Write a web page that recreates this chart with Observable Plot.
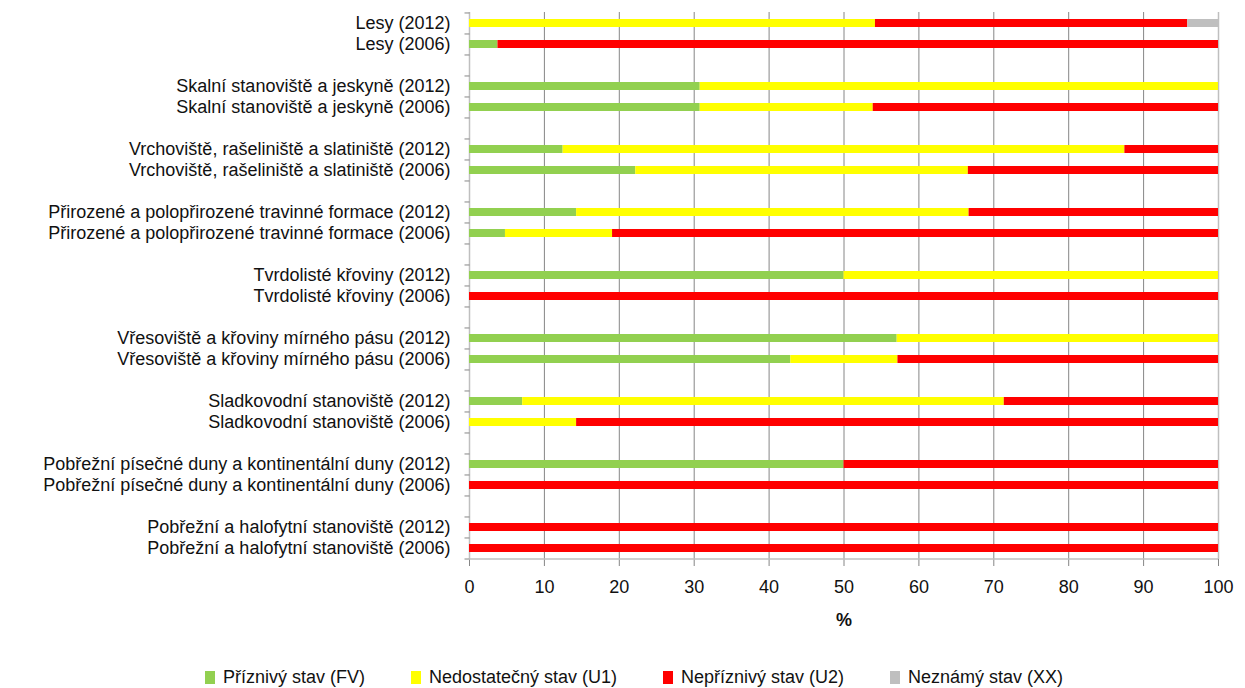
<!DOCTYPE html>
<html>
<head>
<meta charset="utf-8">
<script src="https://cdn.jsdelivr.net/npm/d3@7"></script>
<script src="https://cdn.jsdelivr.net/npm/@observablehq/plot@0.6"></script>
<style>
  body { margin: 0; background: #fff; font-family: "Liberation Sans", Arial, sans-serif; }
  #chart { width: 1245px; }
  #legend { display: flex; justify-content: center; margin-top: 27px; padding-left: 23px; font-size: 18px; color: #111; }
  #legend .item { display: flex; align-items: center; margin: 0 23px; }
  #legend .sw { width: 10px; height: 13px; margin-right: 8px; display: inline-block; }
</style>
</head>
<body>
<div id="chart"></div>
<script>
// ---- data (top to bottom) ----
const habitats = [
  "Lesy", "Lesy",
  "Skalní stanoviště a jeskyně", "Skalní stanoviště a jeskyně",
  "Vrchoviště, rašeliniště a slatiniště", "Vrchoviště, rašeliniště a slatiniště",
  "Přirozené a polopřirozené travinné formace", "Přirozené a polopřirozené travinné formace",
  "Tvrdolisté křoviny", "Tvrdolisté křoviny",
  "Vřesoviště a křoviny mírného pásu", "Vřesoviště a křoviny mírného pásu",
  "Sladkovodní stanoviště", "Sladkovodní stanoviště",
  "Pobřežní písečné duny a kontinentální duny", "Pobřežní písečné duny a kontinentální duny",
  "Pobřežní a halofytní stanoviště", "Pobřežní a halofytní stanoviště"
];
const years = [2012, 2006, 2012, 2006, 2012, 2006, 2012, 2006, 2012, 2006, 2012, 2006, 2012, 2006, 2012, 2006, 2012, 2006];
const fv = [0, 3.8, 30.8, 30.8, 12.5, 22.2, 14.3, 4.8, 50, 0, 57.1, 42.9, 7.1, 0, 50, 0, 0, 0];
const u1 = [54.2, 0, 69.2, 23.1, 75, 44.4, 52.4, 14.3, 50, 0, 42.9, 14.3, 64.3, 14.3, 0, 0, 0, 0];
const u2 = [41.7, 96.2, 0, 46.1, 12.5, 33.4, 33.3, 80.9, 0, 100, 0, 42.8, 28.6, 85.7, 50, 100, 100, 100];
const xx = [4.1, 0, 0, 0, 0, 0, 0, 0, 0, 0, 0, 0, 0, 0, 0, 0, 0, 0];
const statuses = ["Příznivý stav (FV)", "Nedostatečný stav (U1)", "Nepříznivý stav (U2)", "Neznámý stav (XX)"];
const colors = ["#92D050", "#FFFF00", "#FF0000", "#BFBFBF"];
const xTicks = [0, 10, 20, 30, 40, 50, 60, 70, 80, 90, 100];

// ---- build table ----
const labels = habitats.map((h, i) => `${h} (${years[i]})`);
const series = [fv, u1, u2, xx];
const table = [];
labels.forEach((lab, i) => {
  series.forEach((s, k) => { if (s[i] > 0) table.push({label: lab, status: statuses[k], value: s[i]}); });
});
// y domain with blank spacer categories between groups
const domain = [];
labels.forEach((lab, i) => {
  domain.push(lab);
  if (i % 2 === 1 && i < labels.length - 1) domain.push("__gap" + i);
});

const W = 1245, H = 640, mt = 12, mb = 81, ml = 469, mr = 27;
const step = (H - mt - mb) / domain.length;
const tickSym = {draw(ctx) { ctx.moveTo(-5, 0); ctx.lineTo(0, 0); }};

const chart = Plot.plot({
  width: W, height: H,
  marginTop: mt, marginBottom: mb, marginLeft: ml, marginRight: mr,
  style: {fontFamily: "'Liberation Sans', Arial, sans-serif", fontSize: "16px", color: "#111", background: "#fff"},
  x: {domain: [0, 100]},
  y: {domain, paddingInner: 0.62, paddingOuter: 0.31, align: 0.5},
  color: {domain: statuses, range: colors},
  marks: [
    Plot.ruleX(xTicks.filter(t => t > 0 && t < 100), {stroke: "#868686", strokeWidth: 1}),
    Plot.ruleX([0, 100], {stroke: "#BFBFBF", strokeWidth: 1.5}),
    Plot.barX(table, Plot.stackX({x: "value", y: "label", fill: "status", order: statuses})),
    Plot.dot(domain, {x: 0, y: d => d, dy: -step / 2, symbol: tickSym, stroke: "#868686", strokeWidth: 1}),
    Plot.dot([domain[domain.length - 1]], {x: 0, y: d => d, dy: step / 2, symbol: tickSym, stroke: "#868686", strokeWidth: 1}),
    Plot.axisY({tickSize: 0, tickPadding: 19, fill: "#111", tickFormat: d => d.startsWith("__gap") ? "" : d, fontSize: 18, label: null}),
    Plot.axisX({ticks: xTicks, tickSize: 7, tickPadding: 14, stroke: "#868686", fill: "#111", fontSize: 18, label: null}),
    Plot.ruleY([domain[domain.length - 1]], {dy: step / 2, stroke: "#BFBFBF", strokeWidth: 1.5}),
    Plot.text(["%"], {frameAnchor: "bottom", dy: 66, text: d => d, fontWeight: "bold", fontSize: 18, fill: "#111"})
  ]
});
document.getElementById("chart").appendChild(chart);

// legend
const leg = document.createElement("div");
leg.id = "legend";
statuses.forEach((s, k) => {
  const it = document.createElement("div");
  it.className = "item";
  const sw = document.createElement("span");
  sw.className = "sw";
  sw.style.background = colors[k];
  const tx = document.createElement("span");
  tx.textContent = s;
  it.appendChild(sw); it.appendChild(tx);
  leg.appendChild(it);
});
document.body.appendChild(leg);
</script>
</body>
</html>
